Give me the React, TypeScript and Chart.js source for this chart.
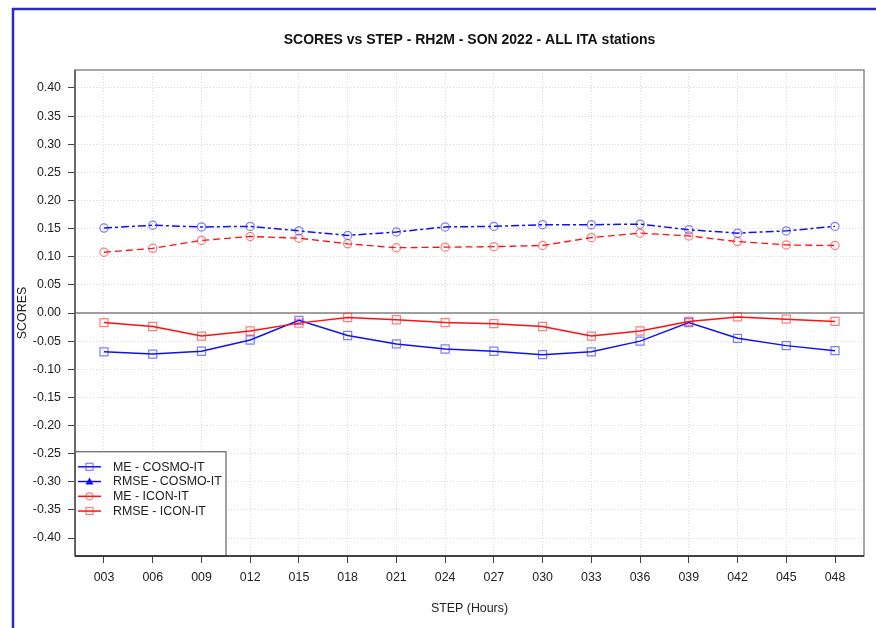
import React, { useEffect, useRef } from "react";
import { Chart, registerables } from "chart.js";

Chart.register(...registerables);

const steps = ["003", "006", "009", "012", "015", "018", "021", "024", "027", "030", "033", "036", "039", "042", "045", "048"];
const meCosmo = [-0.069, -0.073, -0.068, -0.048, -0.013, -0.040, -0.055, -0.064, -0.068, -0.074, -0.069, -0.050, -0.017, -0.045, -0.058, -0.067];
const rmseCosmo = [0.151, 0.156, 0.153, 0.154, 0.146, 0.138, 0.144, 0.153, 0.154, 0.157, 0.157, 0.158, 0.148, 0.142, 0.146, 0.154];
const meIcon = [-0.017, -0.024, -0.041, -0.032, -0.018, -0.008, -0.012, -0.017, -0.019, -0.024, -0.041, -0.032, -0.015, -0.007, -0.011, -0.015];
const rmseIcon = [0.108, 0.115, 0.129, 0.136, 0.133, 0.123, 0.116, 0.117, 0.118, 0.120, 0.134, 0.142, 0.137, 0.127, 0.121, 0.120];
const yTicks = [0.4, 0.35, 0.3, 0.25, 0.2, 0.15, 0.1, 0.05, 0, -0.05, -0.1, -0.15, -0.2, -0.25, -0.3, -0.35, -0.4];
const legendLabels = ["ME - COSMO-IT", "RMSE - COSMO-IT", "ME - ICON-IT", "RMSE - ICON-IT"];
const titleText = "SCORES vs STEP - RH2M - SON 2022 - ALL ITA stations";
const xTitle = "STEP (Hours)";
const yTitle = "SCORES";

const FONT = "'Liberation Sans', Arial, Helvetica, sans-serif";
const BLUE = "#1010f8";
const RED = "#ff1010";
const BLUE_PT = "rgba(40,40,255,0.6)";
const RED_PT = "rgba(255,40,40,0.6)";

const pts = (arr: number[]) => arr.map((y, i) => ({ x: i, y }));

function drawMarker(ctx: CanvasRenderingContext2D, kind: string, x: number, y: number, color: string) {
  ctx.save();
  ctx.strokeStyle = color;
  ctx.fillStyle = color;
  ctx.lineWidth = 1.2;
  ctx.setLineDash([]);
  if (kind === "square") {
    ctx.strokeRect(x - 3.5, y - 3.5, 7, 7);
  } else if (kind === "circle") {
    ctx.beginPath();
    ctx.arc(x, y, 3.5, 0, Math.PI * 2);
    ctx.stroke();
  } else if (kind === "triangle") {
    ctx.beginPath();
    ctx.moveTo(x, y - 4);
    ctx.lineTo(x + 4, y + 3);
    ctx.lineTo(x - 4, y + 3);
    ctx.closePath();
    ctx.fill();
  }
  ctx.restore();
}

const decor = {
  id: "decor",
  beforeDraw(chart: any) {
    const ctx = chart.ctx as CanvasRenderingContext2D;
    ctx.save();
    ctx.fillStyle = "#ffffff";
    ctx.fillRect(0, 0, chart.width, chart.height);
    ctx.strokeStyle = "#2b2bbd";
    ctx.lineWidth = 2.5;
    ctx.beginPath();
    ctx.moveTo(13, chart.height + 5);
    ctx.lineTo(13, 9);
    ctx.lineTo(chart.width + 5, 9);
    ctx.stroke();
    ctx.restore();
  },
  beforeDatasetsDraw(chart: any) {
    const ctx = chart.ctx as CanvasRenderingContext2D;
    const a = chart.chartArea;
    const y0 = chart.scales.y.getPixelForValue(0);
    ctx.save();
    ctx.strokeStyle = "#808080";
    ctx.lineWidth = 1.5;
    ctx.beginPath();
    ctx.moveTo(a.left, y0);
    ctx.lineTo(a.right, y0);
    ctx.stroke();
    ctx.restore();
  },
  afterDatasetsDraw(chart: any) {
    const ctx = chart.ctx as CanvasRenderingContext2D;
    const a = chart.chartArea;
    ctx.save();
    // legend
    const lx = a.left, ly = 451.3, lr = 226;
    ctx.fillStyle = "#ffffff";
    ctx.fillRect(lx, ly, lr - lx, a.bottom - ly);
    ctx.strokeStyle = "#444";
    ctx.lineWidth = 1;
    ctx.strokeRect(lx + 0.5, ly + 0.5, lr - lx - 0.5, a.bottom - ly);
    const colors = [BLUE, BLUE, RED, RED];
    const ptColors = [BLUE_PT, BLUE, RED_PT, RED_PT];
    const kinds = ["square", "triangle", "circle", "square"];
    ctx.font = `12.4px ${FONT}`;
    ctx.textBaseline = "middle";
    ctx.textAlign = "left";
    legendLabels.forEach((lab, i) => {
      const ry = 466.8 + i * 14.75;
      ctx.strokeStyle = colors[i];
      ctx.lineWidth = 1.5;
      ctx.setLineDash([]);
      ctx.beginPath();
      ctx.moveTo(78, ry);
      ctx.lineTo(101, ry);
      ctx.stroke();
      drawMarker(ctx, kinds[i], 89.5, ry, ptColors[i]);
      ctx.fillStyle = "#222";
      ctx.fillText(lab, 113, ry + 0.5);
    });
    // plot box
    ctx.strokeStyle = "#8a8a8a";
    ctx.lineWidth = 1.5;
    ctx.strokeRect(a.left, a.top, a.right - a.left, a.bottom - a.top);
    ctx.strokeStyle = "#555";
    ctx.beginPath();
    ctx.moveTo(a.left, a.top);
    ctx.lineTo(a.left, a.bottom);
    ctx.stroke();
    ctx.strokeStyle = "#222";
    ctx.beginPath();
    ctx.moveTo(a.left, a.bottom);
    ctx.lineTo(a.right, a.bottom);
    ctx.stroke();
    // titles
    ctx.fillStyle = "#111";
    ctx.textAlign = "center";
    ctx.font = `bold 14px ${FONT}`;
    ctx.fillText(titleText, (a.left + a.right) / 2, 40.5);
    ctx.fillStyle = "#222";
    ctx.font = `12.4px ${FONT}`;
    ctx.fillText(xTitle, (a.left + a.right) / 2, 609);
    ctx.translate(22.5, (a.top + a.bottom) / 2);
    ctx.rotate(-Math.PI / 2);
    ctx.fillText(yTitle, 0, 0);
    ctx.restore();
  },
};

export default function App() {
  const ref = useRef<HTMLCanvasElement | null>(null);
  useEffect(() => {
    if (!ref.current) return;
    const chart = new Chart(ref.current, {
      type: "line",
      data: {
        datasets: [
          {
            label: legendLabels[1],
            data: pts(rmseCosmo),
            borderColor: BLUE,
            borderWidth: 1.5,
            borderDash: [8, 3, 3, 3],
            pointStyle: "circle",
            pointRadius: 4.1,
            pointBorderWidth: 1.2,
            pointBorderColor: BLUE_PT,
            pointBackgroundColor: "rgba(0,0,0,0)",
          },
          {
            label: legendLabels[3],
            data: pts(rmseIcon),
            borderColor: RED,
            borderWidth: 1.3,
            borderDash: [7, 4],
            pointStyle: "circle",
            pointRadius: 4.1,
            pointBorderWidth: 1.2,
            pointBorderColor: RED_PT,
            pointBackgroundColor: "rgba(0,0,0,0)",
          },
          {
            label: legendLabels[2],
            data: pts(meIcon),
            borderColor: RED,
            borderWidth: 1.5,
            pointStyle: "rect",
            pointRadius: 5.7,
            pointBorderWidth: 1.2,
            pointBorderColor: RED_PT,
            pointBackgroundColor: "rgba(0,0,0,0)",
          },
          {
            label: legendLabels[0],
            data: pts(meCosmo),
            borderColor: BLUE,
            borderWidth: 1.5,
            pointStyle: "rect",
            pointRadius: 5.7,
            pointBorderWidth: 1.2,
            pointBorderColor: BLUE_PT,
            pointBackgroundColor: "rgba(0,0,0,0)",
          },
        ],
      },
      options: {
        animation: false,
        responsive: false,
        devicePixelRatio: 1,
        layout: { padding: { left: 0, top: 70, right: 12, bottom: 22 } },
        plugins: {
          legend: { display: false },
          title: { display: false },
          tooltip: { enabled: false },
        },
        elements: { line: { tension: 0 } },
        scales: {
          x: {
            type: "linear",
            min: -0.595,
            max: 15.595,
            afterFit: (s: any) => {
              s.height = 50;
            },
            afterBuildTicks: (s: any) => {
              s.ticks = steps.map((_, i) => ({ value: i }));
            },
            grid: {
              color: "#d9d9d9",
              lineWidth: 1,
              tickLength: 7,
              tickColor: "#444",
              tickWidth: 1,
              tickBorderDash: [],
            },
            border: { display: false, dash: [1, 2] },
            ticks: {
              autoSkip: false,
              maxRotation: 0,
              padding: 7,
              color: "#222",
              font: { family: FONT, size: 12.4 },
              callback: (v: any) => steps[Math.round(Number(v))] ?? "",
            },
          },
          y: {
            type: "linear",
            min: -0.432,
            max: 0.432,
            afterFit: (s: any) => {
              s.width = 75;
            },
            afterBuildTicks: (s: any) => {
              s.ticks = yTicks.map((v) => ({ value: v }));
            },
            grid: {
              color: "#d9d9d9",
              lineWidth: 1,
              tickLength: 7,
              tickColor: "#444",
              tickWidth: 1,
              tickBorderDash: [],
            },
            border: { display: false, dash: [1, 2] },
            ticks: {
              padding: 7,
              color: "#222",
              font: { family: FONT, size: 12.4 },
              callback: (v: any) => Number(v).toFixed(2),
            },
          },
        },
      },
      plugins: [decor],
    } as any);
    return () => chart.destroy();
  }, []);
  return (
    <div style={{ position: "fixed", left: 0, top: 0, width: 876, height: 628, background: "#fff" }}>
      <canvas ref={ref} width={876} height={628} style={{ display: "block", width: 876, height: 628 }} />
    </div>
  );
}
